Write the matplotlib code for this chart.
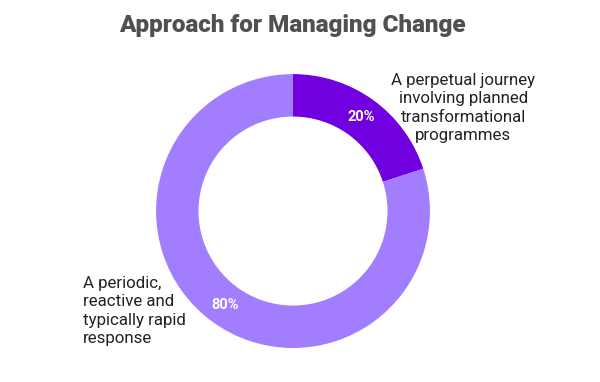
import matplotlib
matplotlib.use("Agg")
import numpy as np
from matplotlib import pyplot as plt

# data
categories = ["A perpetual journey\ninvolving planned\ntransformational\nprogrammes",
              "A periodic,\nreactive and\ntypically rapid\nresponse"]
shares = [20, 80]
colors = ["#7000DF", "#A27EFF"]

plt.rcParams['font.family'] = ['Roboto', 'DejaVu Sans']

fig = plt.figure(figsize=(6, 3.82), dpi=100)
ax = fig.add_axes([0.26, 0.089, 0.4567, 0.717])
wedges, _ = ax.pie(shares, colors=colors, startangle=90, counterclock=False,
                   wedgeprops=dict(width=0.31, edgecolor="none"))
ax.set_xlim(-1, 1)
ax.set_ylim(-1, 1)
ax.set_aspect("equal")

# percentage labels on the ring
for w, val in zip(wedges, shares):
    ang = np.deg2rad((w.theta1 + w.theta2) / 2)
    r = 0.845
    ax.text(r * np.cos(ang), r * np.sin(ang), f"{val}%", ha="center", va="center",
            color="white", fontsize=10.5, fontweight="bold")

fig.text(0.487, 0.932, "Approach for Managing Change", ha="center", va="center",
         fontsize=17.5, fontweight="black", color="#505050")
fig.text(0.772, 0.717, categories[0], ha="center", va="center",
         fontsize=12.2, color="#222222", linespacing=1.27)
fig.text(0.138, 0.186, categories[1], ha="left", va="center",
         fontsize=12.2, color="#222222", linespacing=1.27)

fig.savefig("out.png", dpi=100, facecolor="white")
